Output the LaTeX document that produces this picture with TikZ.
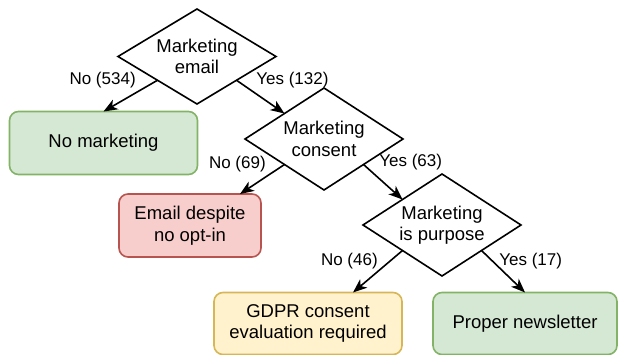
\documentclass[tikz,border=0pt]{standalone}
\usepackage{fontspec}
\setmainfont{Liberation Sans}
\usetikzlibrary{shapes.geometric,arrows.meta}
\definecolor{okfill}{HTML}{D5E8D4}
\definecolor{okdraw}{HTML}{82B366}
\definecolor{badfill}{HTML}{F8CECC}
\definecolor{baddraw}{HTML}{B85450}
\definecolor{warnfill}{HTML}{FFF2CC}
\definecolor{warndraw}{HTML}{D6B656}
\tikzstyle{line} = [draw, line width=1.6pt, -{Stealth[length=14pt,width=11pt,inset=4pt]}]
\tikzstyle{decision} = [draw, diamond, line width=1.6pt, aspect=1.55, inner sep=0pt, outer sep=0pt, minimum width=158pt, minimum height=102pt, align=center, font=\fontsize{18.5}{21.5}\selectfont]
\tikzstyle{block} = [draw, rectangle, rounded corners=9pt, line width=1.6pt, inner sep=0pt, outer sep=0pt, align=center, minimum height=63pt, font=\fontsize{18.5}{21.5}\selectfont]
\tikzstyle{lbl} = [inner sep=0pt, font=\fontsize{17}{20}\selectfont]

\begin{document}
\begin{tikzpicture}[x=1pt, y=-1pt]
        \useasboundingbox (0,0) rectangle (618,355);
        \node[decision, minimum height=95pt] (email) at (197,56.5) {Marketing\\email};
        \node[block, fill=okfill, draw=okdraw, minimum width=188pt] (nomkt) at (103.5,143) {No marketing};
        \node[decision] (consent) at (324,139) {Marketing\\consent};
        \node[block, fill=badfill, draw=baddraw, minimum width=142pt] (optin) at (190,225.5) {Email despite\\no opt-in};
        \node[decision] (purpose) at (442,225) {Marketing\\is purpose};
        \node[block, fill=warnfill, draw=warndraw, minimum width=188pt, minimum height=62pt] (gdpr) at (308,323.5) {GDPR consent\\evaluation required};
        \node[block, fill=okfill, draw=okdraw, minimum width=184pt, minimum height=62pt] (news) at (525,323.5) {Proper newsletter};
        \path[line] (email.south west) -- node[lbl, pos=0, left=21pt] {No (534)} (nomkt.north);
        \path[line] (email.south east) -- node[lbl, pos=0, right=19pt] {Yes (132)} (consent.north west);
        \path[line] (consent.south west) -- node[lbl, pos=0, left=18pt] {No (69)} ([xshift=50pt]optin.north);
        \path[line] (consent.south east) -- node[lbl, pos=0, right=15pt, yshift=2pt] {Yes (63)} (purpose.north west);
        \path[line] (purpose.south west) -- node[lbl, pos=0, left=24pt, yshift=-11pt] {No (46)} ([xshift=45pt]gdpr.north);
        \path[line] (purpose.south east) -- node[lbl, pos=0, right=17pt, yshift=-11pt] {Yes (17)} (news.north);
    \end{tikzpicture}
\end{document}
